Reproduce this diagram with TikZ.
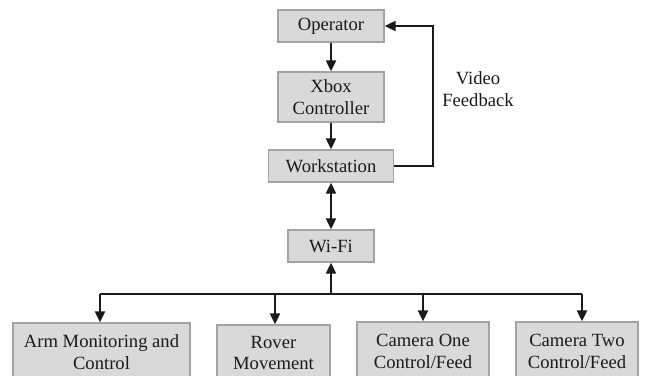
\documentclass[tikz,border=0pt]{standalone}
\usepackage{fontspec}
\setmainfont{Liberation Serif}
\usetikzlibrary{arrows.meta}
\definecolor{boxfill}{HTML}{D9D9D9}
\definecolor{boxline}{HTML}{A3A3A3}
\definecolor{ink}{HTML}{1A1A1A}
\begin{document}
\begin{tikzpicture}[x=1bp,y=-1bp,
  blk/.style={draw=boxline,fill=boxfill,line width=1.3bp,inner sep=0pt,align=center,
    font=\fontsize{18.7}{22}\selectfont,text=ink},
  conn/.style={draw=ink,line width=2bp},
  arr/.style={conn,-{Triangle[length=11bp,width=10bp]}},
  darr/.style={conn,{Triangle[length=11bp,width=10bp]}-{Triangle[length=11bp,width=10bp]}}]
\useasboundingbox (0,0) rectangle (649,375);
\begin{scope}
\clip (0,0) rectangle (649,375);
\node[blk,minimum width=106bp,minimum height=32bp] (op) at (331,26) {Operator};
\node[blk,minimum width=106bp,minimum height=50bp] (xbox) at (331,97) {Xbox\\Controller};
\node[blk,minimum width=125bp,minimum height=32bp] (ws) at (331,166) {Workstation};
\node[blk,minimum width=86bp,minimum height=32bp] (wifi) at (331,246) {Wi-Fi};
\node[blk,minimum width=177bp,minimum height=58bp] (arm) at (101.5,352) {Arm Monitoring and\\Control};
\node[blk,minimum width=113bp,minimum height=56bp] (rover) at (273.5,353) {Rover\\Movement};
\node[blk,minimum width=132bp,minimum height=58bp] (cam1) at (423,351) {Camera One\\Control/Feed};
\node[blk,minimum width=122bp,minimum height=58bp] (cam2) at (577,351) {Camera Two\\Control/Feed};
\end{scope}
\node[align=center,font=\fontsize{18.7}{22}\selectfont,text=ink] (vf) at (478,89) {Video\\Feedback};
\coordinate (fb) at (433,166);
\coordinate (busL) at (100,294);
\coordinate (busR) at (582,294);
\coordinate (busW) at (331,294);
\coordinate (dRover) at (275,294);
\coordinate (dCam1) at (423,294);
\draw[arr] (op) -- (xbox);
\draw[arr] (xbox) -- (ws);
\draw[darr] (ws) -- (wifi);
\draw[arr] (ws.east) -- (fb) |- (op.east);
\draw[conn] (busL) -- (busR);
\draw[arr] (busW) -- (busW |- wifi.south);
\draw[arr] (busL) -- (busL |- arm.north);
\draw[arr] (dRover) -- (dRover |- rover.north);
\draw[arr] (dCam1) -- (dCam1 |- cam1.north);
\draw[arr] (busR) -- (busR |- cam2.north);
\end{tikzpicture}
\end{document}
